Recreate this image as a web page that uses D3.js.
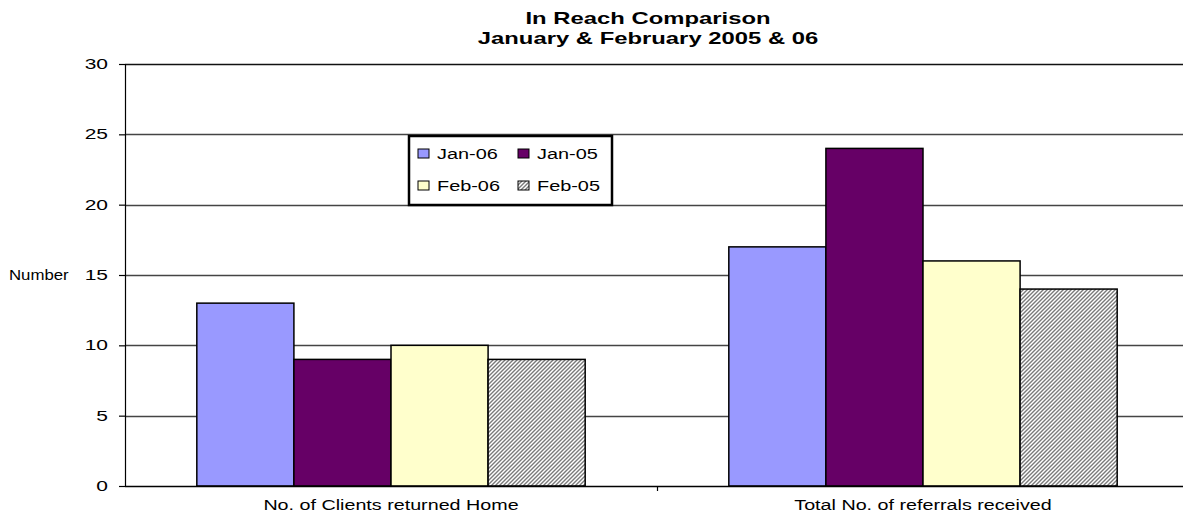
<!DOCTYPE html>
<html>
<head>
<meta charset="utf-8">
<script src="https://cdn.jsdelivr.net/npm/d3@7"></script>
<style>
  html, body { margin: 0; padding: 0; background: #fff; }
  svg { display: block; font-family: "Liberation Sans", Arial, sans-serif; }
</style>
</head>
<body>
<svg id="chart" width="1183" height="516"></svg>
<script>
// Chart data
const categories = ["No. of Clients returned Home", "Total No. of referrals received"];
const seriesNames = ["Jan-06", "Jan-05", "Feb-06", "Feb-05"];
const jan06 = [13, 17];
const jan05 = [9, 24];
const feb06 = [10, 16];
const feb05 = [9, 14];
const yTicks = [0, 5, 10, 15, 20, 25, 30];
const titleLines = ["In Reach Comparison", "January & February 2005 & 06"];

const seriesValues = [jan06, jan05, feb06, feb05];
const fills = ["#9999ff", "#660066", "#ffffcc", "url(#hatch)"];

const svg = d3.select("#chart");

// Text in this chart is set in a horizontally widened face
function wideText(sel, x, y, sx) {
  return sel.attr("transform", (d, i) =>
    `translate(${typeof x === "function" ? x(d, i) : x},${typeof y === "function" ? y(d, i) : y}) scale(${sx},1)`);
}

// Diagonal hatch used by the Feb-05 series
const defs = svg.append("defs");
const pat = defs.append("pattern")
  .attr("id", "hatch")
  .attr("patternUnits", "userSpaceOnUse")
  .attr("width", 4).attr("height", 4);
pat.append("rect").attr("width", 4).attr("height", 4).attr("fill", "#fff");
pat.append("path")
  .attr("d", "M-1,1 l2,-2 M0,4 l4,-4 M3,5 l2,-2")
  .attr("stroke", "#7a7a7a").attr("stroke-width", 1.4);

const plot = { left: 125, right: 1189, top: 64, bottom: 486 };

const y = d3.scaleLinear().domain([0, 30]).range([plot.bottom, plot.top]);
const x0 = d3.scaleBand().domain(categories).range([plot.left, plot.right]);
const groupPad = 0.135;
const x1 = d3.scaleBand().domain(seriesNames)
  .range([x0.bandwidth() * groupPad, x0.bandwidth() * (1 - groupPad)]);

// Gridlines
svg.append("g").selectAll("line")
  .data(yTicks.filter(t => t > 0))
  .join("line")
  .attr("x1", plot.left).attr("x2", plot.right)
  .attr("y1", d => Math.round(y(d)) + 0.5).attr("y2", d => Math.round(y(d)) + 0.5)
  .attr("stroke", d => d === 30 ? "#111" : "#444")
  .attr("stroke-width", 1.3);

// Bars
const groups = svg.append("g").selectAll("g")
  .data(categories)
  .join("g")
  .attr("transform", d => `translate(${x0(d)},0)`);

groups.selectAll("rect")
  .data((c, ci) => seriesNames.map((s, si) => ({ s, si, v: seriesValues[si][ci] })))
  .join("rect")
  .attr("x", d => x1(d.s))
  .attr("y", d => y(d.v))
  .attr("width", x1.bandwidth())
  .attr("height", d => y(0) - y(d.v))
  .attr("fill", d => fills[d.si])
  .attr("stroke", "#000")
  .attr("stroke-width", 1.5);

// Y axis (line and ticks from d3.axisLeft, labels set separately)
const yAxis = d3.axisLeft(y).tickValues(yTicks).tickSize(6).tickFormat("");
const yg = svg.append("g").attr("transform", `translate(${plot.left},0)`).call(yAxis);
yg.select(".domain").attr("stroke", "#000").attr("stroke-width", 1.2);
yg.selectAll(".tick line").attr("stroke", "#000").attr("stroke-width", 1.2);

svg.append("g").selectAll("text")
  .data(yTicks)
  .join("text")
  .attr("text-anchor", "end")
  .attr("font-size", 15)
  .text(d => d)
  .call(wideText, 108, d => y(d) + 5, 1.4);

// X axis with a tick between categories
const xAxisG = svg.append("g").attr("transform", `translate(0,${plot.bottom})`);
xAxisG.append("line")
  .attr("x1", plot.left).attr("x2", plot.right)
  .attr("y1", 0.5).attr("y2", 0.5)
  .attr("stroke", "#000").attr("stroke-width", 1.5);
xAxisG.selectAll("line.sep")
  .data(categories.slice(1))
  .join("line").attr("class", "sep")
  .attr("x1", d => x0(d) + 0.5).attr("x2", d => x0(d) + 0.5)
  .attr("y1", 0).attr("y2", 5)
  .attr("stroke", "#000").attr("stroke-width", 1.2);
xAxisG.selectAll("text")
  .data(categories)
  .join("text")
  .attr("text-anchor", "middle")
  .attr("font-size", 14.5)
  .text(d => d)
  .call(wideText, d => x0(d) + x0.bandwidth() / 2, 24, 1.36);

// Y axis title
svg.append("text")
  .attr("font-size", 14)
  .text("Number")
  .call(wideText, 9, y(15) + 5, 1.2);

// Title
svg.append("g").selectAll("text")
  .data(titleLines)
  .join("text")
  .attr("text-anchor", "middle")
  .attr("font-size", 16)
  .attr("font-weight", "bold")
  .text(d => d)
  .call(wideText, 648, (d, i) => 24 + i * 19.5, 1.49);

// Legend
const legend = svg.append("g").attr("transform", "translate(409,136)");
legend.append("rect")
  .attr("width", 203).attr("height", 69)
  .attr("fill", "#fff").attr("stroke", "#000").attr("stroke-width", 2.5);
const items = legend.selectAll("g.item")
  .data(seriesNames)
  .join("g").attr("class", "item")
  .attr("transform", (d, i) => `translate(${9 + (i % 2) * 100},${13 + Math.floor(i / 2) * 32})`);
items.append("rect")
  .attr("width", 11).attr("height", 9)
  .attr("fill", (d, i) => fills[i])
  .attr("stroke", "#000").attr("stroke-width", 1);
items.append("text")
  .attr("font-size", 14)
  .text(d => d)
  .call(wideText, 19, 9.5, 1.42);
</script>
</body>
</html>
